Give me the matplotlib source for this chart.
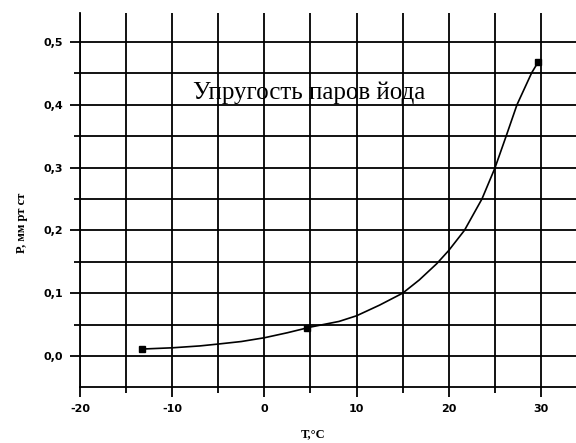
import matplotlib
matplotlib.use("Agg")
import matplotlib.pyplot as plt
from matplotlib.ticker import FixedLocator, MultipleLocator, FuncFormatter

# curve (T in deg C, P in mm Hg)
t_curve = [-13.3, -10.0, -7.0, -5.0, -2.5, 0.0, 2.5, 5.0, 8.1, 10.0, 12.5, 15.0,
           16.8, 18.7, 20.0, 21.7, 23.6, 25.0, 26.2, 27.4, 29.0, 29.7]
p_curve = [0.011, 0.013, 0.016, 0.019, 0.023, 0.029, 0.037, 0.046, 0.055, 0.064, 0.081, 0.100,
           0.121, 0.147, 0.168, 0.200, 0.250, 0.299, 0.349, 0.400, 0.451, 0.468]

# measured points (square markers)
t_pts = [-13.3, 4.6, 29.7]
p_pts = [0.011, 0.045, 0.468]

x_ticks = [-20, -10, 0, 10, 20, 30]
y_ticks = [0.0, 0.1, 0.2, 0.3, 0.4, 0.5]

title = "Упругость паров йода"
xlabel = "T,°C"
ylabel = "Р, мм рт ст"

fig = plt.figure(figsize=(5.76, 4.43), dpi=100)
ax = fig.add_axes([80 / 576, 56 / 443, 496 / 576, 374 / 443])

ax.set_xlim(-20, 33.8)
ax.set_ylim(-0.0494, 0.546)

ax.xaxis.set_major_locator(FixedLocator(x_ticks))
ax.xaxis.set_minor_locator(MultipleLocator(5))
ax.yaxis.set_major_locator(FixedLocator(y_ticks))
ax.yaxis.set_minor_locator(MultipleLocator(0.05))
ax.yaxis.set_major_formatter(FuncFormatter(lambda v, _: f"{v:.1f}".replace(".", ",")))
ax.xaxis.set_major_formatter(FuncFormatter(lambda v, _: f"{v:.0f}"))

ax.grid(which="both", color="black", linewidth=1.3)
ax.set_axisbelow(True)
for side in ("top", "right"):
    ax.spines[side].set_visible(False)
for side in ("left", "bottom"):
    ax.spines[side].set_linewidth(1.3)

ax.tick_params(which="major", length=7, width=1.3, labelsize=8, pad=5)
ax.tick_params(which="minor", length=4, width=1.3)
for lab in ax.get_xticklabels() + ax.get_yticklabels():
    lab.set_fontweight("bold")

ax.plot(t_curve, p_curve, color="black", linewidth=1.2)
ax.plot(t_pts, p_pts, linestyle="none", marker="s", markersize=4, color="black")

ax.text(4.8, 0.401, title, ha="center", va="bottom", fontsize=18,
        family="Liberation Serif")

ax.set_xlabel(xlabel, fontsize=9, family="Liberation Serif", fontweight="bold")
ax.xaxis.set_label_coords(0.47, -0.11)
ax.set_ylabel(ylabel, fontsize=9, family="Liberation Serif", fontweight="bold")
ax.yaxis.set_label_coords(-0.105, 0.44)

fig.savefig("out.png", dpi=100)
